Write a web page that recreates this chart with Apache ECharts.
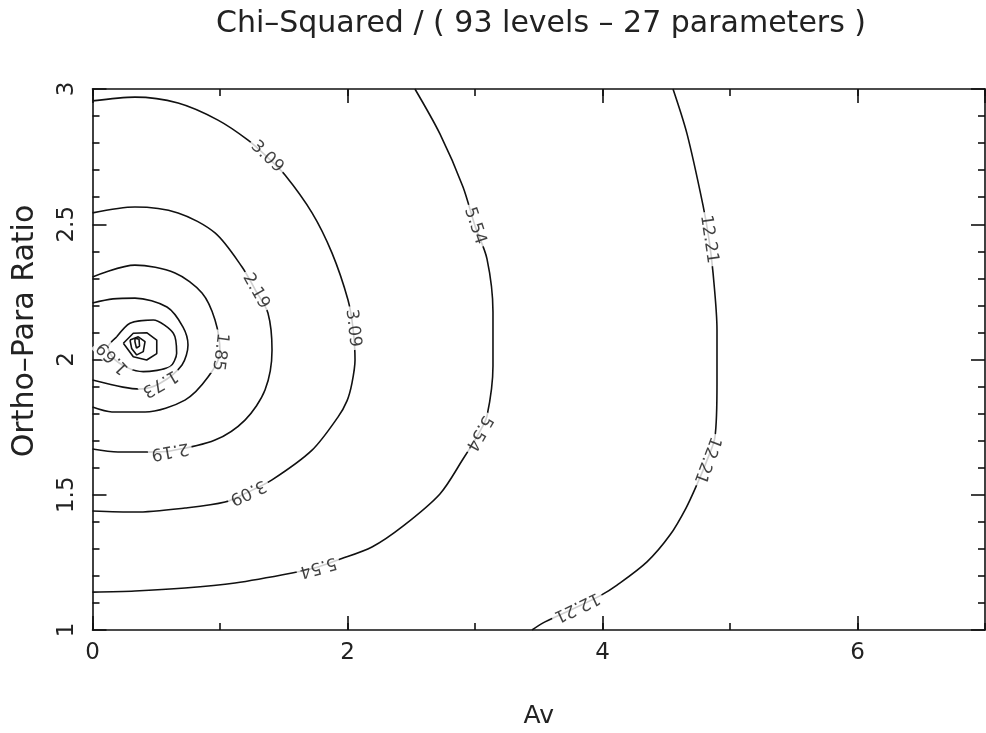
<!DOCTYPE html>
<html>
<head>
<meta charset="utf-8">
<script src="https://cdn.jsdelivr.net/npm/echarts@6/dist/echarts.min.js"></script>
<style>
  html, body { margin: 0; padding: 0; background: #fff; }
  #chart { width: 986px; height: 733px; }
</style>
</head>
<body>
<div id="chart"></div>
<script>
// Chi-squared surface over extinction (Av) and ortho/para ratio, drawn as labelled contours.
const FONT = "'DejaVu Sans', sans-serif";
const TEXT = '#222';
const INK = '#111';

const titleText = 'Chi\u2013Squared / ( 93 levels \u2013 27 parameters )';
const xName = 'Av';
const yName = 'Ortho\u2013Para Ratio';

// axis extents and labelled ticks
const xExtent = [0, 7];
const yExtent = [1, 3];
const xTickValues = [0, 2, 4, 6];
const yTickValues = [1, 1.5, 2, 2.5, 3];

// contour levels
const levels = ['12.21', '5.54', '3.09', '2.19', '1.85', '1.73', '1.69'];

// contour paths, [Av, ratio]
const c1221 = [[4.553,3.000],[4.663,2.834],[4.788,2.571],[4.835,2.445],[4.867,2.320],[4.898,2.109],[4.898,1.909],[4.882,1.713],[4.820,1.628],[4.749,1.547],[4.655,1.451],[4.529,1.351],[4.349,1.252],[4.114,1.166],[3.980,1.126],[3.800,1.085],[3.549,1.030],[3.447,1.000]];
const c554 = [[2.529,3.000],[2.725,2.834],[2.906,2.638],[3.000,2.494],[3.094,2.372],[3.141,2.176],[3.141,1.976],[3.094,1.791],[3.031,1.728],[2.906,1.632],[2.725,1.503],[2.435,1.384],[2.192,1.307],[1.925,1.259],[1.769,1.233],[1.565,1.211],[1.118,1.174],[0.725,1.155],[0.333,1.144],[0,1.140]];
const c309 = [[0,2.956],[0.333,2.970],[0.671,2.948],[0.984,2.885],[1.220,2.811],[1.369,2.749],[1.510,2.682],[1.722,2.542],[1.878,2.394],[2.004,2.220],[2.043,2.116],[2.059,1.998],[2.035,1.913],[1.996,1.847],[1.925,1.787],[1.722,1.665],[1.408,1.555],[1.220,1.510],[1.039,1.473],[0.725,1.451],[0.333,1.436],[0,1.440]];
const c219 = [[0,2.542],[0.333,2.564],[0.671,2.542],[0.961,2.468],[1.173,2.342],[1.282,2.253],[1.376,2.172],[1.408,2.035],[1.353,1.887],[1.196,1.776],[0.961,1.702],[0.608,1.662],[0.435,1.658],[0.2,1.658],[0,1.669]];
const c185 = [[0,2.305],[0.333,2.349],[0.647,2.320],[0.859,2.246],[0.961,2.146],[1.0,2.028],[0.906,1.935],[0.725,1.850],[0.412,1.806],[0.153,1.806],[0,1.824]];
const c173 = [[0,2.209],[0.161,2.224],[0.333,2.227],[0.584,2.194],[0.710,2.120],[0.749,2.054],[0.702,1.980],[0.53,1.912],[0.373,1.891],[0.239,1.898],[0,1.924]];
const c169 = [[0.190,2.084],[0.294,2.134],[0.477,2.146],[0.634,2.097],[0.660,2.023],[0.608,1.973],[0.398,1.955],[0.278,1.969],[0.161,2.006],[0.122,2.046],[0.190,2.084]];
const cInner1 = [[0.242,2.060],[0.320,2.097],[0.425,2.099],[0.504,2.072],[0.504,2.022],[0.425,1.998],[0.320,2.010],[0.242,2.060]];
const cInner2 = [[0.294,2.072],[0.359,2.084],[0.412,2.066],[0.398,2.029],[0.347,2.017],[0.307,2.041],[0.294,2.072]];
const cInner3 = [[0.333,2.079],[0.365,2.075],[0.369,2.050],[0.345,2.042],[0.333,2.065],[0.333,2.079]];

// where each level's value is written along its curve
const lab1221 = [[4.835,2.445],[4.820,1.628],[3.800,1.085]];
const lab554 = [[3.000,2.494],[3.031,1.728],[1.769,1.233]];
const lab309 = [[1.369,2.749],[2.043,2.116],[1.220,1.510]];
const lab219 = [[1.282,2.253],[0.608,1.662]];
const lab185 = [[1.0,2.028]];
const lab173 = [[0.53,1.912]];
const lab169 = [[0.161,2.006]];

const contours = [
  { level: levels[0], pts: c1221, labels: lab1221, closed: false, smooth: 0.3 },
  { level: levels[1], pts: c554, labels: lab554, closed: false, smooth: 0.3 },
  { level: levels[2], pts: c309, labels: lab309, closed: false, smooth: 0.3 },
  { level: levels[3], pts: c219, labels: lab219, closed: false, smooth: 0.3 },
  { level: levels[4], pts: c185, labels: lab185, closed: false, smooth: 0.3 },
  { level: levels[5], pts: c173, labels: lab173, closed: false, smooth: 0.3 },
  { level: levels[6], pts: c169, labels: lab169, closed: true, smooth: 0.25 },
  { level: null, pts: cInner1, labels: [], closed: true, smooth: 0 },
  { level: null, pts: cInner2, labels: [], closed: true, smooth: 0 },
  { level: null, pts: cInner3, labels: [], closed: true, smooth: 0 }
];

const chart = echarts.init(document.getElementById('chart'), null, { renderer: 'canvas' });

const axisLineStyle = { color: INK, width: 1.6 };
const tickFont = { fontFamily: FONT, fontSize: 23, color: TEXT };

function majorX(position, showLabels) {
  return {
    type: 'value', position, min: xExtent[0], max: xExtent[1], interval: 2,
    axisLine: { show: true, onZero: false, lineStyle: axisLineStyle },
    axisTick: { show: true, inside: true, length: 14, lineStyle: axisLineStyle },
    axisLabel: Object.assign({
      show: showLabels, margin: 12, showMaxLabel: false,
      formatter: v => (xTickValues.includes(v) ? String(v) : '')
    }, tickFont),
    splitLine: { show: false }
  };
}
function minorX(position) {
  return {
    type: 'value', position, min: xExtent[0], max: xExtent[1], interval: 1,
    axisLine: { show: false, onZero: false },
    axisTick: { show: true, inside: true, length: 7, lineStyle: axisLineStyle },
    axisLabel: { show: false },
    splitLine: { show: false }
  };
}
function yAxisAt(position, showLabels) {
  return {
    type: 'value', position, min: yExtent[0], max: yExtent[1], interval: 0.5,
    axisLine: { show: true, onZero: false, lineStyle: axisLineStyle },
    axisTick: { show: true, inside: true, length: 14, lineStyle: axisLineStyle },
    minorTick: { show: true, splitNumber: 5, length: 7, lineStyle: axisLineStyle },
    axisLabel: Object.assign({
      show: showLabels, margin: 14, rotate: 90,
      formatter: v => (yTickValues.includes(v) ? String(v) : '')
    }, tickFont),
    splitLine: { show: false }
  };
}

const xAxes = [majorX('bottom', true), minorX('bottom'), majorX('top', false), minorX('top')];
xAxes[0].name = xName;
xAxes[0].nameLocation = 'middle';
xAxes[0].nameGap = 74;
xAxes[0].nameTextStyle = { fontFamily: FONT, fontSize: 25, color: TEXT };

const yAxes = [yAxisAt('left', true), yAxisAt('right', false)];
yAxes[0].name = yName;
yAxes[0].nameLocation = 'middle';
yAxes[0].nameGap = 52;
yAxes[0].nameRotate = 90;
yAxes[0].nameTextStyle = { fontFamily: FONT, fontSize: 30, color: TEXT, padding: [0, 0, 0, 57] };

const lineSeries = contours.map((c, i) => ({
  type: 'line',
  name: c.level || ('inner' + i),
  data: c.pts,
  xAxisIndex: 0,
  yAxisIndex: 0,
  showSymbol: false,
  smooth: c.smooth,
  clip: true,
  silent: true,
  z: 2,
  lineStyle: { color: INK, width: 1.6 }
}));

chart.setOption({
  animation: false,
  grid: { left: 92.5, right: 1, top: 89, bottom: 103, containLabel: false, outerBoundsMode: 'none' },
  xAxis: xAxes,
  yAxis: yAxes,
  graphic: [{
    type: 'text', x: 541, y: 24,
    style: { text: titleText, fontFamily: FONT, fontSize: 30, fill: TEXT, textAlign: 'center', textVerticalAlign: 'middle' }
  }],
  series: lineSeries
});

// Orient every level label along its curve, following the direction of travel.
const labelData = [];
contours.forEach(c => {
  if (!c.labels.length) return;
  const px = c.pts.map(p => chart.convertToPixel({ gridIndex: 0 }, p));
  const n = px.length;
  c.labels.forEach(a => {
    const ap = chart.convertToPixel({ gridIndex: 0 }, a);
    let best = 0, bd = Infinity;
    px.forEach((q, i) => {
      const d = (q[0] - ap[0]) ** 2 + (q[1] - ap[1]) ** 2;
      if (d < bd) { bd = d; best = i; }
    });
    let i0 = best - 1, i1 = best + 1;
    if (c.closed) {
      if (i0 < 0) i0 = n - 2;
      if (i1 > n - 1) i1 = 1;
    } else {
      i0 = Math.max(0, i0);
      i1 = Math.min(n - 1, i1);
    }
    const dx = px[i1][0] - px[i0][0];
    const dy = px[i1][1] - px[i0][1];
    const rot = Math.atan2(-dy, dx) * 180 / Math.PI;
    labelData.push({ name: c.level, value: a, label: { rotate: rot } });
  });
});

chart.setOption({
  series: lineSeries.concat([{
    type: 'scatter',
    name: 'levels',
    data: labelData,
    symbolSize: 0,
    silent: true,
    z: 10,
    label: {
      show: true, position: 'inside', formatter: '{b}',
      fontFamily: FONT, fontSize: 17, color: INK,
      backgroundColor: '#fff', padding: [1, 3]
    }
  }])
});
</script>
</body>
</html>
